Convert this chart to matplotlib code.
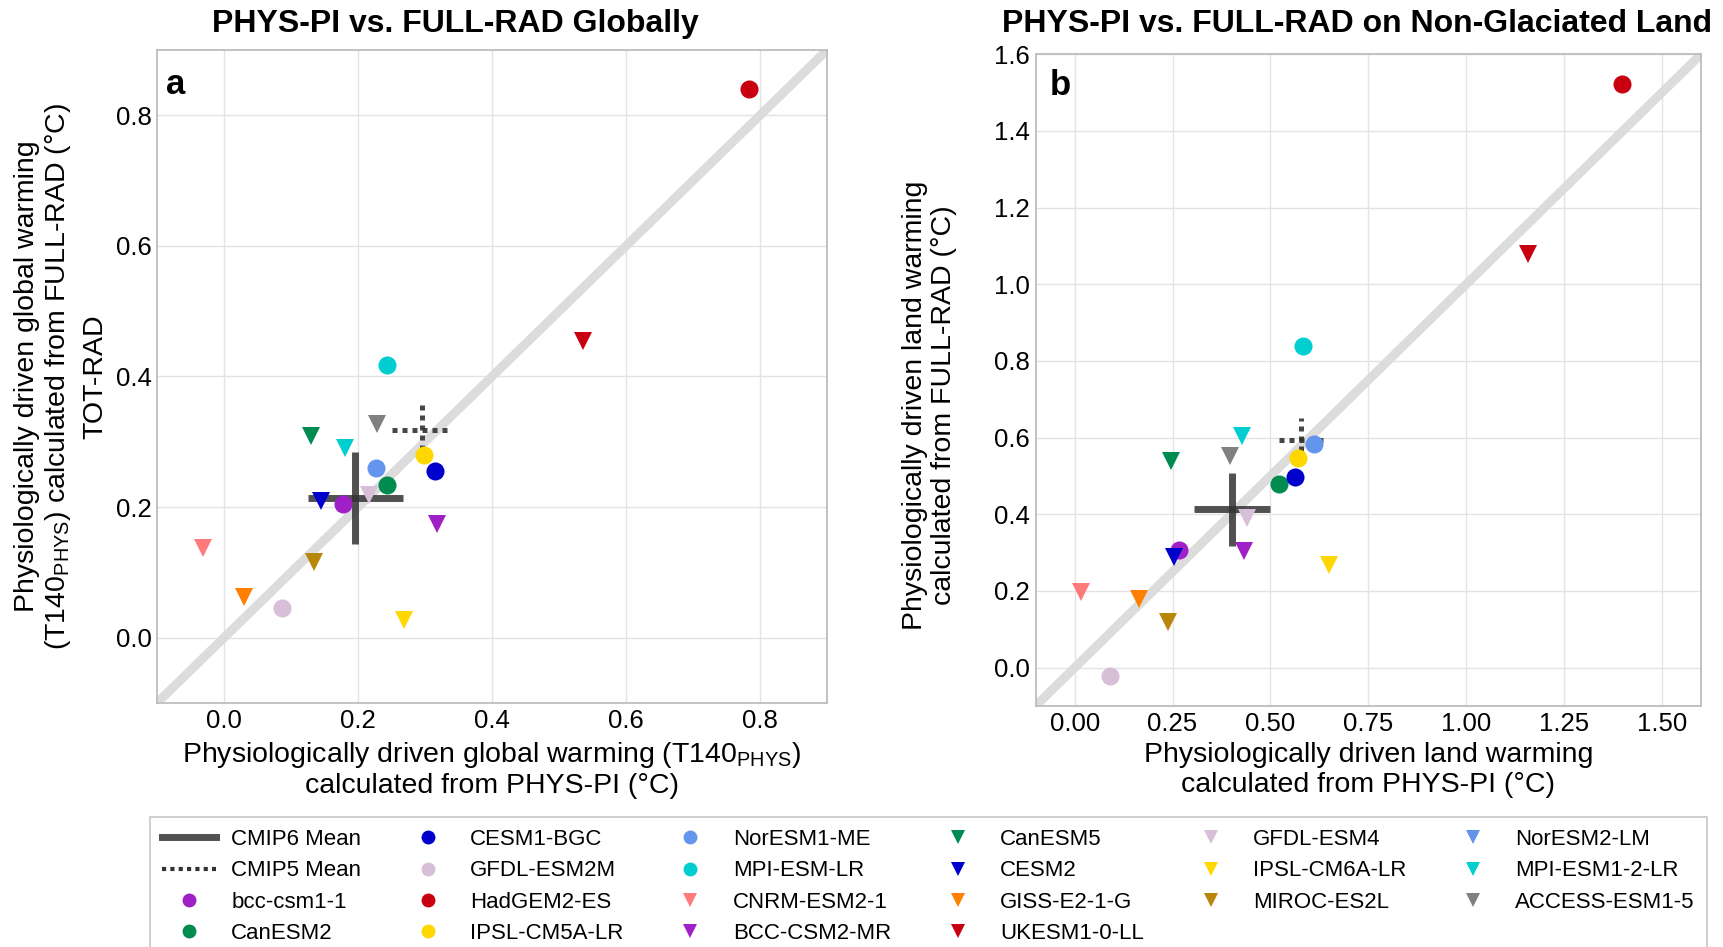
import numpy as np
import matplotlib
matplotlib.use("Agg")
import matplotlib.pyplot as plt
from matplotlib.lines import Line2D

plt.rcParams['font.family'] = ['Liberation Sans', 'DejaVu Sans']
plt.rcParams['mathtext.fontset'] = 'custom'
plt.rcParams['mathtext.rm'] = 'Liberation Sans'
plt.rcParams['mathtext.it'] = 'Liberation Sans:italic'
plt.rcParams['mathtext.bf'] = 'Liberation Sans:bold'

# models (legend order), CMIP5 = circles, CMIP6 = down triangles
models = ['bcc-csm1-1', 'CanESM2', 'CESM1-BGC', 'GFDL-ESM2M', 'HadGEM2-ES',
          'IPSL-CM5A-LR', 'NorESM1-ME', 'MPI-ESM-LR',
          'CNRM-ESM2-1', 'BCC-CSM2-MR', 'CanESM5', 'CESM2', 'GISS-E2-1-G',
          'UKESM1-0-LL', 'GFDL-ESM4', 'IPSL-CM6A-LR', 'MIROC-ES2L',
          'NorESM2-LM', 'MPI-ESM1-2-LR', 'ACCESS-ESM1-5']
markers = ['o'] * 8 + ['v'] * 12
colors = ['#A020C8', '#008B50', '#0000CD', '#D8BFD8', '#C8000F',
          '#FFD700', '#6495ED', '#00CED1',
          '#FF7A7A', '#A020C8', '#008B50', '#0000CD', '#FF7F00',
          '#C8000F', '#D8BFD8', '#FFD700', '#B8860B',
          '#6495ED', '#00CED1', '#808080']

# panel a: global
glob_phys = [0.177, 0.243, 0.315, 0.087, 0.783, 0.299, 0.227, 0.244,
             -0.032, 0.318, 0.130, 0.145, 0.030, 0.536, 0.217, 0.269, 0.134,
             np.nan, 0.181, 0.228]
glob_full = [0.204, 0.234, 0.256, 0.045, 0.840, 0.280, 0.260, 0.417,
             0.137, 0.174, 0.309, 0.210, 0.063, 0.455, 0.219, 0.027, 0.116,
             np.nan, 0.291, 0.328]

# panel b: non-glaciated land
land_phys = [0.266, 0.523, 0.564, 0.091, 1.398, 0.570, 0.612, 0.584,
             0.015, 0.432, 0.247, 0.253, 0.165, 1.157, 0.441, 0.650, 0.238,
             np.nan, 0.427, 0.398]
land_full = [0.306, 0.479, 0.498, -0.023, 1.522, 0.547, 0.583, 0.839,
             0.197, 0.305, 0.539, 0.289, 0.180, 1.080, 0.390, 0.267, 0.119,
             np.nan, 0.605, 0.552]

# ensemble means (x, y) and half-width of the cross bars (x, y)
cmip6_glob = [0.196, 0.214]
cmip6_glob_err = [0.071, 0.070]
cmip5_glob = [0.296, 0.318]
cmip5_glob_err = [0.045, 0.046]
cmip6_land = [0.402, 0.413]
cmip6_land_err = [0.096, 0.095]
cmip5_land = [0.578, 0.595]
cmip5_land_err = [0.057, 0.055]

fig = plt.figure(figsize=(17.23, 9.47), dpi=100)
ax_a = fig.add_axes([157 / 1723, 1 - 703 / 947, 670 / 1723, 653 / 947])
ax_b = fig.add_axes([1035.5 / 1723, 1 - 706 / 947, 665.5 / 1723, 651.7 / 947])


def draw_cross(ax, c, e, ls):
    kw = dict(color='#333333', alpha=0.85, zorder=3, solid_capstyle='butt',
              dash_capstyle='butt')
    if ls == 'solid':
        kw.update(lw=5, linestyle='-')
    else:
        kw.update(lw=3.6, linestyle=(0, (1, 1)), alpha=0.9)
    ax.plot([c[0] - e[0], c[0] + e[0]], [c[1], c[1]], **kw)
    ax.plot([c[0], c[0]], [c[1] - e[1], c[1] + e[1]], **kw)


def style_axes(ax, xlim, ylim, xticks, yticks, xfmt, yfmt):
    ax.set_xlim(xlim)
    ax.set_ylim(ylim)
    ax.set_xticks(xticks)
    ax.set_yticks(yticks)
    ax.set_xticklabels([xfmt.format(v) for v in xticks])
    ax.set_yticklabels([yfmt.format(v) for v in yticks])
    ax.grid(True, color='#E3E3E3', lw=1)
    ax.set_axisbelow(True)
    for s in ax.spines.values():
        s.set_color('#BDBDBD')
        s.set_linewidth(1.3)
    ax.tick_params(length=0, labelsize=18.5, pad=4, colors='black')
    # 1:1 line
    ax.axline((0, 0), slope=1, color='#DCDCDC', lw=6.5, zorder=1,
              solid_capstyle='butt')


def draw_points(ax, xs, ys):
    for x, y, m, c in zip(xs, ys, markers, colors):
        if np.isnan(x):
            continue
        ax.plot(x, y, marker=m, color=c, markersize=13, linestyle='none',
                markeredgewidth=0, zorder=4)


# panel a
style_axes(ax_a, (-0.1, 0.9), (-0.1, 0.9),
           [0.0, 0.2, 0.4, 0.6, 0.8], [0.0, 0.2, 0.4, 0.6, 0.8],
           '{:.1f}', '{:.1f}')
draw_cross(ax_a, cmip6_glob, cmip6_glob_err, 'solid')
draw_cross(ax_a, cmip5_glob, cmip5_glob_err, 'dotted')
draw_points(ax_a, glob_phys, glob_full)
ax_a.set_xlabel('Physiologically driven global warming (T140$_{\\rm PHYS}$)\n'
                'calculated from PHYS-PI (°C)', fontsize=20.5, labelpad=5,
                linespacing=1.15)
ax_a.text(-0.169, 0.5, 'Physiologically driven global warming\n'
          '(T140$_{\\rm PHYS}$) calculated from FULL-RAD (°C)',
          transform=ax_a.transAxes, rotation=90, ha='center', va='center',
          fontsize=20.5, linespacing=1.15, multialignment='center')
ax_a.text(-0.092, 0.5, 'TOT-RAD', transform=ax_a.transAxes, rotation=90,
          ha='center', va='center', fontsize=20.5)
ax_a.text(0.013, 0.933, 'a', transform=ax_a.transAxes, fontsize=25,
          fontweight='bold', va='baseline')

# panel b
style_axes(ax_b, (-0.1, 1.6), (-0.1, 1.6),
           [0.0, 0.25, 0.5, 0.75, 1.0, 1.25, 1.5],
           [0.0, 0.2, 0.4, 0.6, 0.8, 1.0, 1.2, 1.4, 1.6],
           '{:.2f}', '{:.1f}')
draw_cross(ax_b, cmip6_land, cmip6_land_err, 'solid')
draw_cross(ax_b, cmip5_land, cmip5_land_err, 'dotted')
draw_points(ax_b, land_phys, land_full)
ax_b.set_xlabel('Physiologically driven land warming\n'
                'calculated from PHYS-PI (°C)', fontsize=20.5, labelpad=5,
                linespacing=1.15)
ax_b.text(-0.16, 0.462, 'Physiologically driven land warming\n'
          'calculated from FULL-RAD (°C)', transform=ax_b.transAxes,
          rotation=90, ha='center', va='center', fontsize=20.5,
          linespacing=1.15, multialignment='center')
ax_b.text(0.022, 0.9375, 'b', transform=ax_b.transAxes, fontsize=25,
          fontweight='bold', va='baseline')

# titles
fig.text(455 / 1723, 1 - 24 / 947, 'PHYS-PI vs. FULL-RAD Globally',
         fontsize=23, fontweight='bold', ha='center', va='center')
fig.text(1357 / 1723, 1 - 24 / 947, 'PHYS-PI vs. FULL-RAD on Non-Glaciated Land',
         fontsize=23, fontweight='bold', ha='center', va='center')

# legend
handles = [Line2D([], [], color='#333333', alpha=0.85, lw=5),
           Line2D([], [], color='#333333', lw=3, linestyle=(0, (1, 1)))]
labels = ['CMIP6 Mean', 'CMIP5 Mean']
for name, m, c in zip(models, markers, colors):
    handles.append(Line2D([], [], marker=m, color=c, linestyle='none',
                          markersize=10, markeredgewidth=0))
    labels.append(name)

leg = fig.legend(handles, labels, ncol=6, loc='upper left',
                 bbox_to_anchor=(150 / 1723, 0, (1707 - 150) / 1723, 1 - 817 / 947),
                 mode='expand', fontsize=16, frameon=True, fancybox=False,
                 handlelength=2.4, handletextpad=0.7, labelspacing=0.46,
                 borderpad=0.55, borderaxespad=0)
leg.get_frame().set_edgecolor('#BDBDBD')
leg.get_frame().set_linewidth(1.3)

plt.savefig('out.png', dpi=100)
